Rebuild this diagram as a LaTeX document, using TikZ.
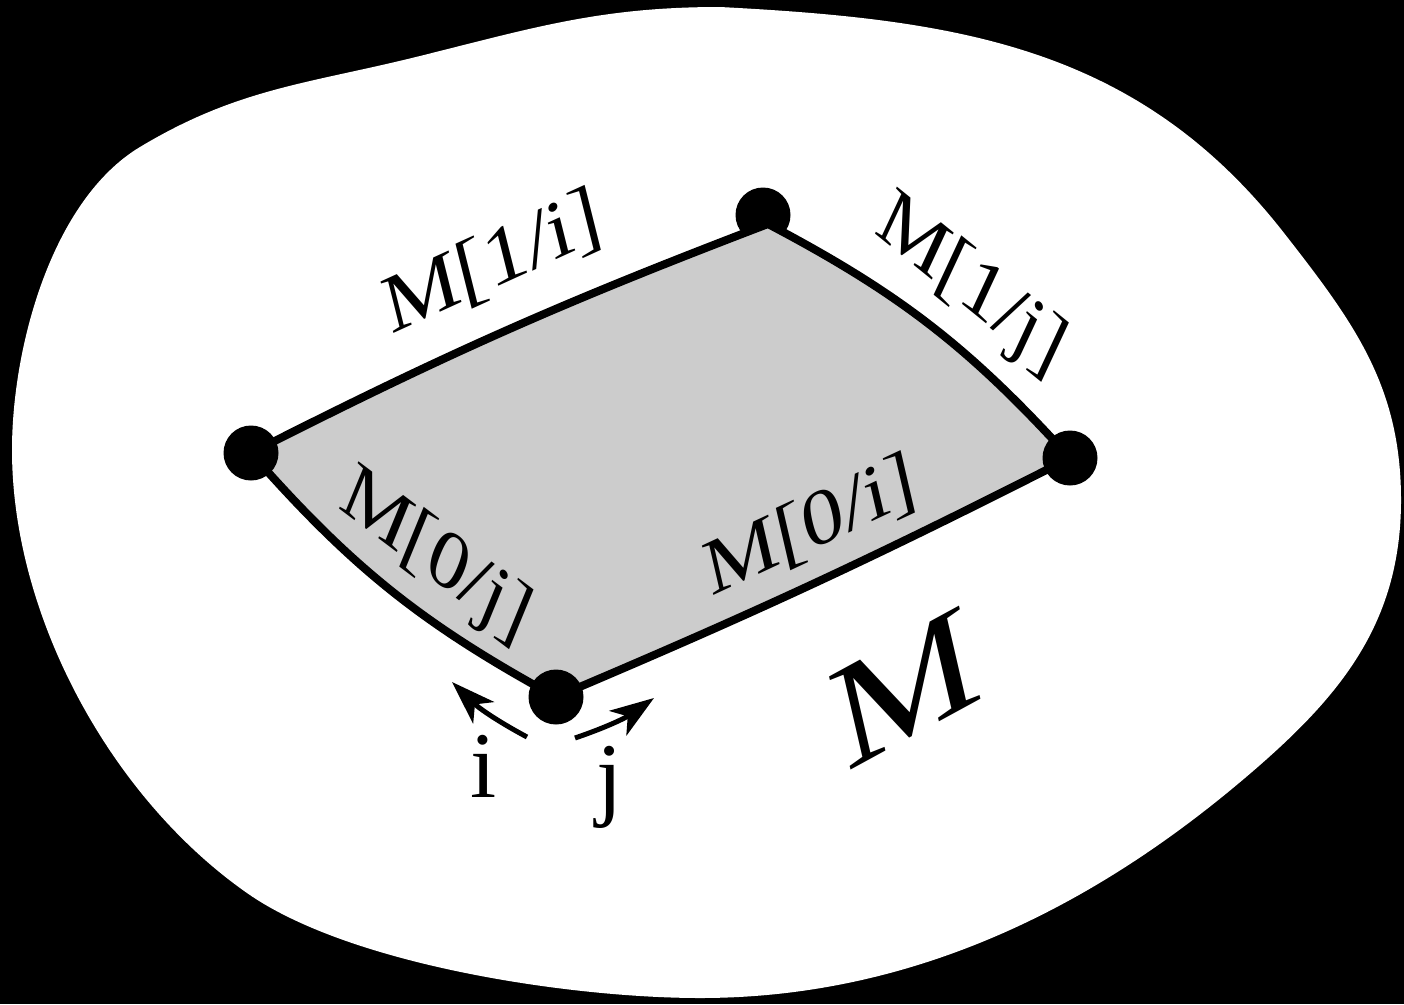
\documentclass[tikz,border=0pt]{standalone}
\usepackage{fontspec}
\setmainfont{Liberation Serif}
\usetikzlibrary{arrows.meta}
\definecolor{shapegray}{RGB}{204,204,204}
\begin{document}
\begin{tikzpicture}[x=1pt,y=-1pt,
  dot/.style={circle,fill=black,inner sep=0pt,minimum size=55pt},
  edgelbl/.style={inner sep=0pt,anchor=base west,transform shape},
  dirarrow/.style={line width=5pt,-{Stealth[length=44pt,width=30pt,inset=12pt]}},
  dirlbl/.style={inner sep=0pt,anchor=base,font=\fontsize{94}{96}\selectfont},
]
% background and outer region
\fill[black] (0,0) rectangle (1404,1004);
\fill[white] (720,7) to[out=-3,in=128] (1284,233)
  to[out=-52,in=90] (1401,500)
  to[out=-90,in=40] (1239,783)
  to[out=220,in=0,looseness=0.9] (700,998)
  to[out=180,in=-35,looseness=0.7] (247,893)
  to[out=145,in=-90,looseness=0.85] (12,450)
  to[out=90,in=211,looseness=0.8] (140,147)
  to[out=31,in=194] (420,56)
  to[out=14,in=180] (720,7) -- cycle;
% corners
\coordinate (cL) at (251,453);
\coordinate (cT) at (768,224);
\coordinate (cR) at (1070,458);
\coordinate (cB) at (556,697);
\node[dot] (dT) at (763,215) {};
\filldraw[fill=shapegray,draw=black,line width=8pt,line join=round]
  (cL) to[bend left=3] (cT) to[bend left=10] (cR) to[bend left=2] (cB)
  to[bend left=10] (cL) -- cycle;
\node[dot] (dL) at (cL) {};
\node[dot] (dR) at (cR) {};
\node[dot] (dB) at (cB) {};
% edge labels
\node[edgelbl,font=\fontsize{90}{90}\selectfont,cm={0.910,0.415,-0.218,0.873,(0,0)}] (l1i) at (391,335) {M[1/i]};
\node[edgelbl,font=\fontsize{88}{90}\selectfont,cm={0.906,0.423,-0.198,0.857,(0,0)}] (l0i) at (711,597) {M[0/i]};
\node[edgelbl,font=\fontsize{88}{90}\selectfont,cm={0.777,-0.629,0.380,0.816,(0,0)}] (l1j) at (873,232) {M[1/j]};
\node[edgelbl,font=\fontsize{87}{90}\selectfont,cm={0.799,-0.602,0.340,0.830,(0,0)}] (l0j) at (337,507) {M[0/j]};
% big M
\node[edgelbl,font=\fontsize{178}{180}\selectfont,cm={0.878,0.479,-0.184,0.799,(0,0)}] (bigM) at (846,773) {M};
% direction arrows
\coordinate (iTail) at (527,737);
\coordinate (iTip) at (452,682);
\coordinate (jTail) at (575,738);
\coordinate (jTip) at (654,698);
\draw[dirarrow] (iTail) to[bend left=8] (iTip);
\draw[dirarrow] (jTail) to[bend right=8] (jTip);
\node[dirlbl] (li) at (484,797) {i};
\node[dirlbl] (lj) at (610,808) {j};
\end{tikzpicture}
\end{document}
